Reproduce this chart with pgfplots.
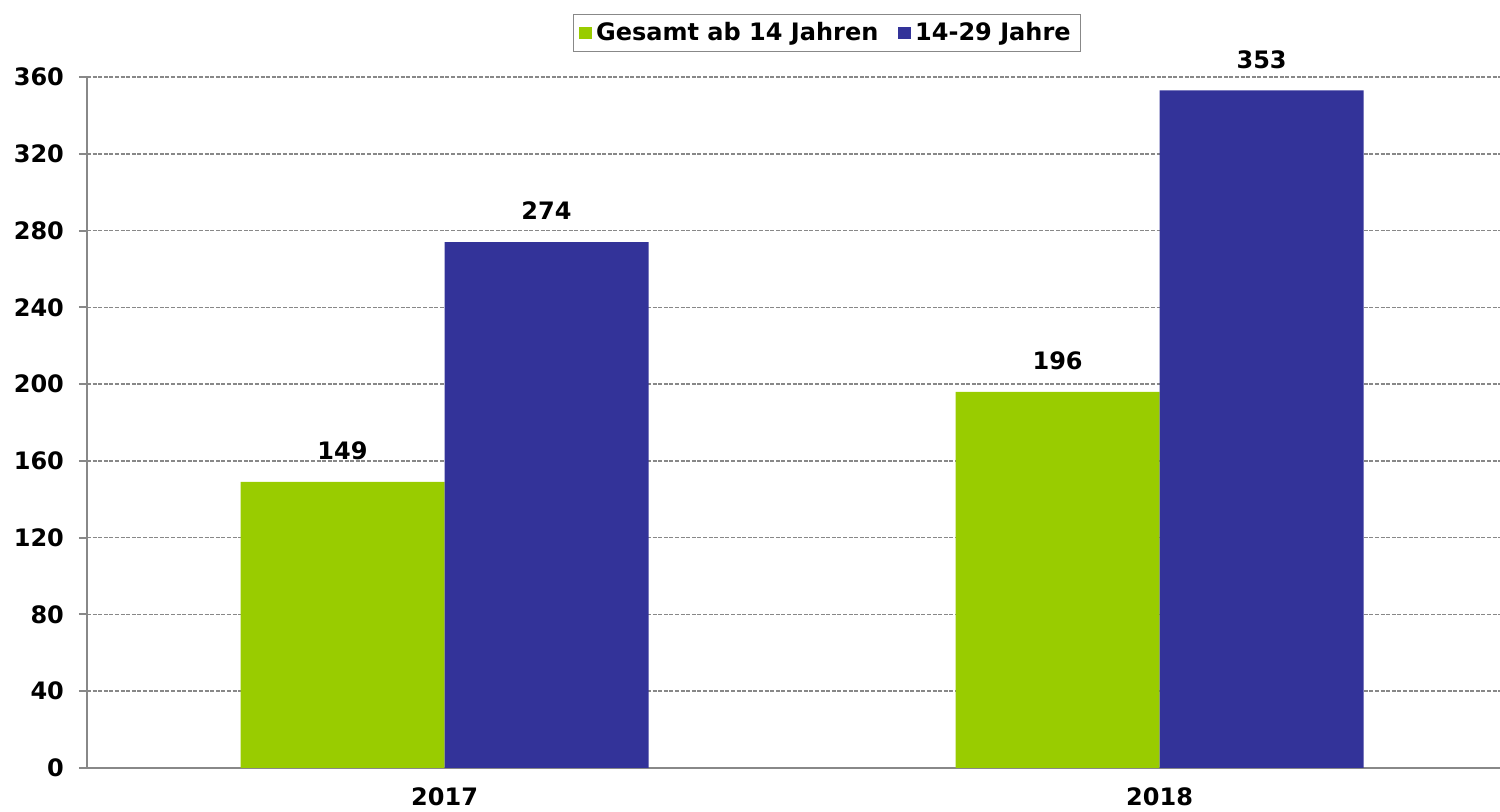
\documentclass[border=0pt]{standalone}
\usepackage{fontspec}
\setmainfont{DejaVu Sans}
\usepackage{pgfplots}
\pgfplotsset{compat=1.18}

\definecolor{grn}{HTML}{99CC00}
\definecolor{blu}{HTML}{333399}
\definecolor{axgray}{HTML}{888888}

\begin{document}
\begin{tikzpicture}
\begin{axis}[
    name=ax,
    scale only axis,
    width=706.5pt, height=345.5pt,
    ybar=0pt,
    bar width=0.2853,
    xmin=-0.5, xmax=1.476,
    ymin=0, ymax=360,
    ytick={0,40,...,360},
    xtick={0,1},
    xticklabels={2017,2018},
    x tick style={draw=none},
    extra x ticks={-0.5,0.5},
    extra x tick labels={},
    extra x tick style={tick style={draw=axgray, line width=1pt}, major tick length=4pt},
    axis lines=left,
    axis line style={-, draw=axgray, line width=1.2pt},
    y tick style={draw=axgray, line width=1pt},
    tick align=outside,
    major tick length=4pt,
    ymajorgrids,
    grid style={draw=axgray, line width=0.8pt, dash pattern=on 2pt off 0.8pt},
    font=\fontsize{12}{14}\selectfont\bfseries,
    /pgf/number format/assume math mode=true,
    yticklabel style={font=\fontsize{12}{14}\selectfont\bfseries, xshift=-4pt},
    xticklabel style={font=\fontsize{12}{14}\selectfont\bfseries, yshift=-2.5pt},
    nodes near coords,
    nodes near coords style={font=\fontsize{12}{14}\selectfont\bfseries, anchor=south, yshift=7.5pt, text=black},
    legend style={at={(0.5237,1)}, anchor=south, yshift=12.5pt, draw=axgray,
      legend columns=-1, font=\fontsize{12}{14}\selectfont\bfseries,
      inner xsep=3pt, inner ysep=2pt,
      /tikz/every even column/.append style={column sep=8pt}},
    legend image code/.code={\fill[#1] (0pt,-3.2pt) rectangle (6.4pt,3.2pt);},
    legend cell align=left,
]
\addplot[fill=grn, draw=none] coordinates {(0,149) (1,196)};
\addplot[fill=blu, draw=none] coordinates {(0,274) (1,353)};
\legend{Gesamt ab 14 Jahren,14-29 Jahre}
\end{axis}
\pgfresetboundingbox
\path[use as bounding box] ([xshift=-43.5pt,yshift=-22pt]ax.south west) rectangle ([yshift=38.5pt]ax.north east);
\end{tikzpicture}
\end{document}
